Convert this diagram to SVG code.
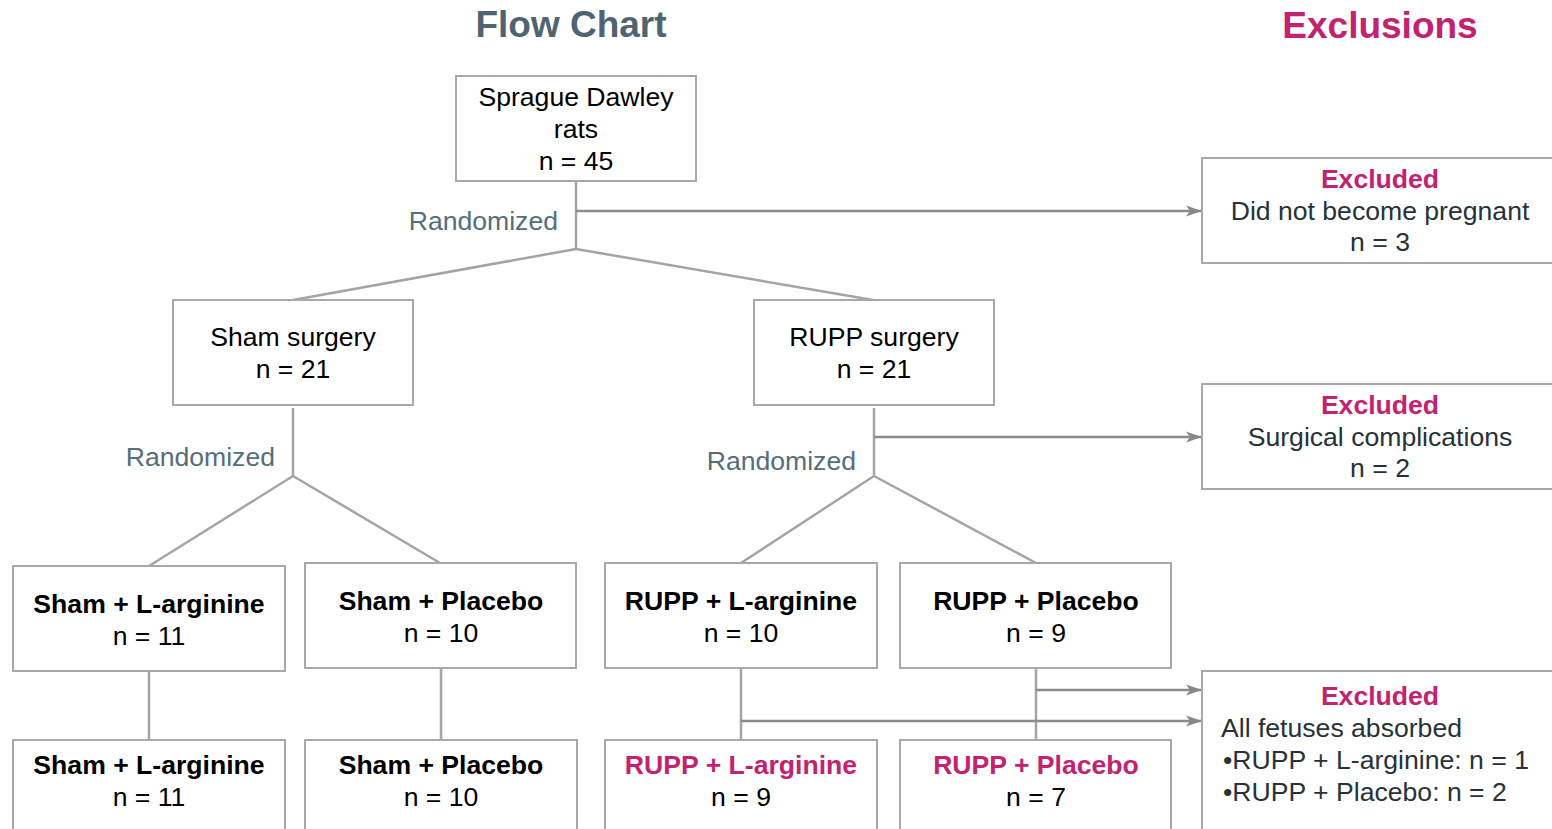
<svg xmlns="http://www.w3.org/2000/svg" width="1552" height="829" viewBox="0 0 1552 829">
<defs>
<marker id="arr" markerWidth="16" markerHeight="12" refX="15" refY="6" orient="auto" markerUnits="userSpaceOnUse">
<path d="M0,0.5 L16,6 L0,11.5 L4,6 z" fill="#888888"/>
</marker>
<style>
.box{fill:#ffffff;stroke:#a8a8a8;stroke-width:2}
.ln{fill:none;stroke:#a4a4a4;stroke-width:2.5}
.ar{fill:none;stroke:#8a8a8a;stroke-width:2.5;marker-end:url(#arr)}
text{font-family:"Liberation Sans",Arial,sans-serif;font-size:26.6px;text-anchor:middle;fill:#000000}
.b{font-weight:bold}
.mg{fill:#c2226f}
.dk{fill:#263238}
.rnd{fill:#546e7a;text-anchor:end}
.ttl{font-size:37px;font-weight:bold}
</style>
</defs>
<rect width="1552" height="829" fill="#ffffff"/>
<text class="ttl" x="571" y="37" style="fill:#4f6470">Flow Chart</text>
<text class="ttl mg" x="1380" y="38">Exclusions</text>

<g id="connectors">
<path class="ln" d="M576,181 V249 M576,249 L293,300 M576,249 L873,300"/>
<path class="ar" d="M576,211 H1201"/>
<path class="ln" d="M293,408 V476 M293,476 L149,566 M293,476 L440,563"/>
<path class="ln" d="M874,408 V476 M874,476 L741,563 M874,476 L1036,563"/>
<path class="ar" d="M874,437 H1201"/>
<path class="ln" d="M149,671 V740 M441,668 V740 M741,668 V740 M1036,668 V740"/>
<path class="ar" d="M1036,690 H1201"/>
<path class="ar" d="M741,721 H1201"/>
</g>

<g id="n-top">
<rect class="box" x="456" y="76" width="240" height="105"/>
<text x="576" y="106">Sprague Dawley</text>
<text x="576" y="138">rats</text>
<text x="576" y="170">n = 45</text>
</g>
<text class="rnd" x="558" y="230">Randomized</text>

<g id="n-sham">
<rect class="box" x="173" y="300" width="240" height="105"/>
<text x="293" y="346">Sham surgery</text>
<text x="293" y="378">n = 21</text>
</g>
<text class="rnd" x="275" y="466">Randomized</text>

<g id="n-rupp">
<rect class="box" x="754" y="300" width="240" height="105"/>
<text x="874" y="346">RUPP surgery</text>
<text x="874" y="378">n = 21</text>
</g>
<text class="rnd" x="856" y="470">Randomized</text>

<g id="n-ex1">
<rect class="box" x="1202" y="158" width="360" height="105"/>
<text class="b mg" x="1380" y="188">Excluded</text>
<text class="dk" x="1380" y="220">Did not become pregnant</text>
<text class="dk" x="1380" y="251">n = 3</text>
</g>

<g id="n-ex2">
<rect class="box" x="1202" y="384" width="360" height="105"/>
<text class="b mg" x="1380" y="414">Excluded</text>
<text class="dk" x="1380" y="446">Surgical complications</text>
<text class="dk" x="1380" y="477">n = 2</text>
</g>

<g id="n-sl1">
<rect class="box" x="13" y="566" width="272" height="105"/>
<text class="b" x="149" y="613">Sham + L-arginine</text>
<text x="149" y="645">n = 11</text>
</g>
<g id="n-sp1">
<rect class="box" x="305" y="563" width="271" height="105"/>
<text class="b" x="441" y="610">Sham + Placebo</text>
<text x="441" y="642">n = 10</text>
</g>
<g id="n-rl1">
<rect class="box" x="605" y="563" width="272" height="105"/>
<text class="b" x="741" y="610">RUPP + L-arginine</text>
<text x="741" y="642">n = 10</text>
</g>
<g id="n-rp1">
<rect class="box" x="900" y="563" width="271" height="105"/>
<text class="b" x="1036" y="610">RUPP + Placebo</text>
<text x="1036" y="642">n = 9</text>
</g>

<g id="n-sl2">
<rect class="box" x="13" y="740" width="272" height="100"/>
<text class="b" x="149" y="774">Sham + L-arginine</text>
<text x="149" y="806">n = 11</text>
</g>
<g id="n-sp2">
<rect class="box" x="305" y="740" width="272" height="100"/>
<text class="b" x="441" y="774">Sham + Placebo</text>
<text x="441" y="806">n = 10</text>
</g>
<g id="n-rl2">
<rect class="box" x="605" y="740" width="272" height="100"/>
<text class="b mg" x="741" y="774">RUPP + L-arginine</text>
<text x="741" y="806">n = 9</text>
</g>
<g id="n-rp2">
<rect class="box" x="900" y="740" width="271" height="100"/>
<text class="b mg" x="1036" y="774">RUPP + Placebo</text>
<text x="1036" y="806">n = 7</text>
</g>

<g id="n-ex3">
<rect class="box" x="1202" y="671" width="360" height="170"/>
<text class="b mg" x="1380" y="705">Excluded</text>
<text class="dk" x="1221" y="737" style="text-anchor:start">All fetuses absorbed</text>
<text class="dk" x="1223" y="769" style="text-anchor:start">•RUPP + L-arginine: n = 1</text>
<text class="dk" x="1223" y="801" style="text-anchor:start">•RUPP + Placebo: n = 2</text>
</g>
</svg>
